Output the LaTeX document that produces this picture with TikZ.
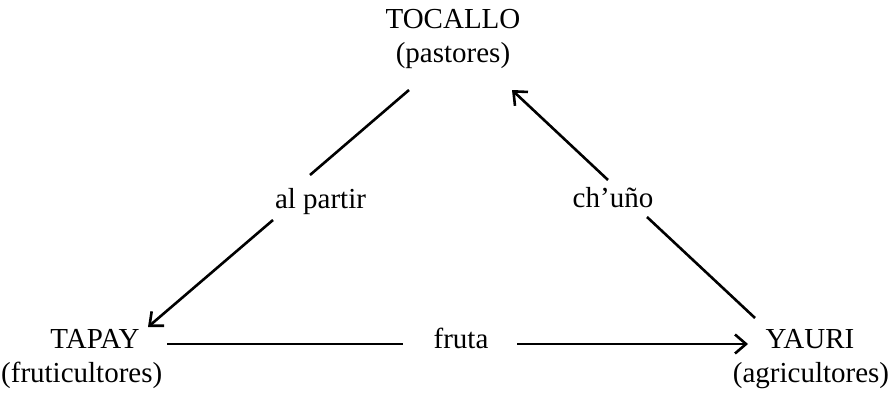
\documentclass[tikz,border=0pt]{standalone}
\usepackage{fontspec}
\setmainfont{Liberation Serif}
\usetikzlibrary{arrows.meta}
\begin{document}
\begin{tikzpicture}[x=1pt,y=1pt,
  lbl/.style={anchor=base,inner sep=0pt,font=\fontsize{29}{34}\selectfont},
  conn/.style={line width=2.6pt},
  arr/.style={conn,-{Straight Barb[length=11pt,width=19pt,line width=2.6pt]}}]
\useasboundingbox (0,0) rectangle (890,392);
% nodes
\node[lbl] (tocallo) at (453,363) {TOCALLO};
\node[lbl] (pastores) at (453,330) {(pastores)};
\node[lbl] (tapay) at (95,44) {TAPAY};
\node[lbl,anchor=base west] (fruti) at (1,10) {(fruticultores)};
\node[lbl] (yauri) at (810,44) {YAURI};
\node[lbl] (agri) at (811,10) {(agricultores)};
\node[lbl] (alpartir) at (320.5,184) {al partir};
\node[lbl] (chuno) at (613,185) {ch’uño};
\node[lbl] (fruta) at (461,44) {fruta};
% connector end points
\coordinate (a1) at (409,302);
\coordinate (a2) at (310,217);
\coordinate (a3) at (273,172);
\coordinate (a4) at (148,65);
\coordinate (b1) at (755,74);
\coordinate (b2) at (647,175);
\coordinate (b3) at (608,212);
\coordinate (b4) at (512,302);
\coordinate (c1) at (167,48);
\coordinate (c2) at (403,48);
\coordinate (c3) at (517,48);
\coordinate (c4) at (748,48);
% connectors
\draw[conn] (a1) -- (a2);
\draw[arr] (a3) -- (a4);
\draw[conn] (b1) -- (b2);
\draw[arr] (b3) -- (b4);
\draw[conn] (c1) -- (c2);
\draw[arr] (c3) -- (c4);
\end{tikzpicture}
\end{document}
